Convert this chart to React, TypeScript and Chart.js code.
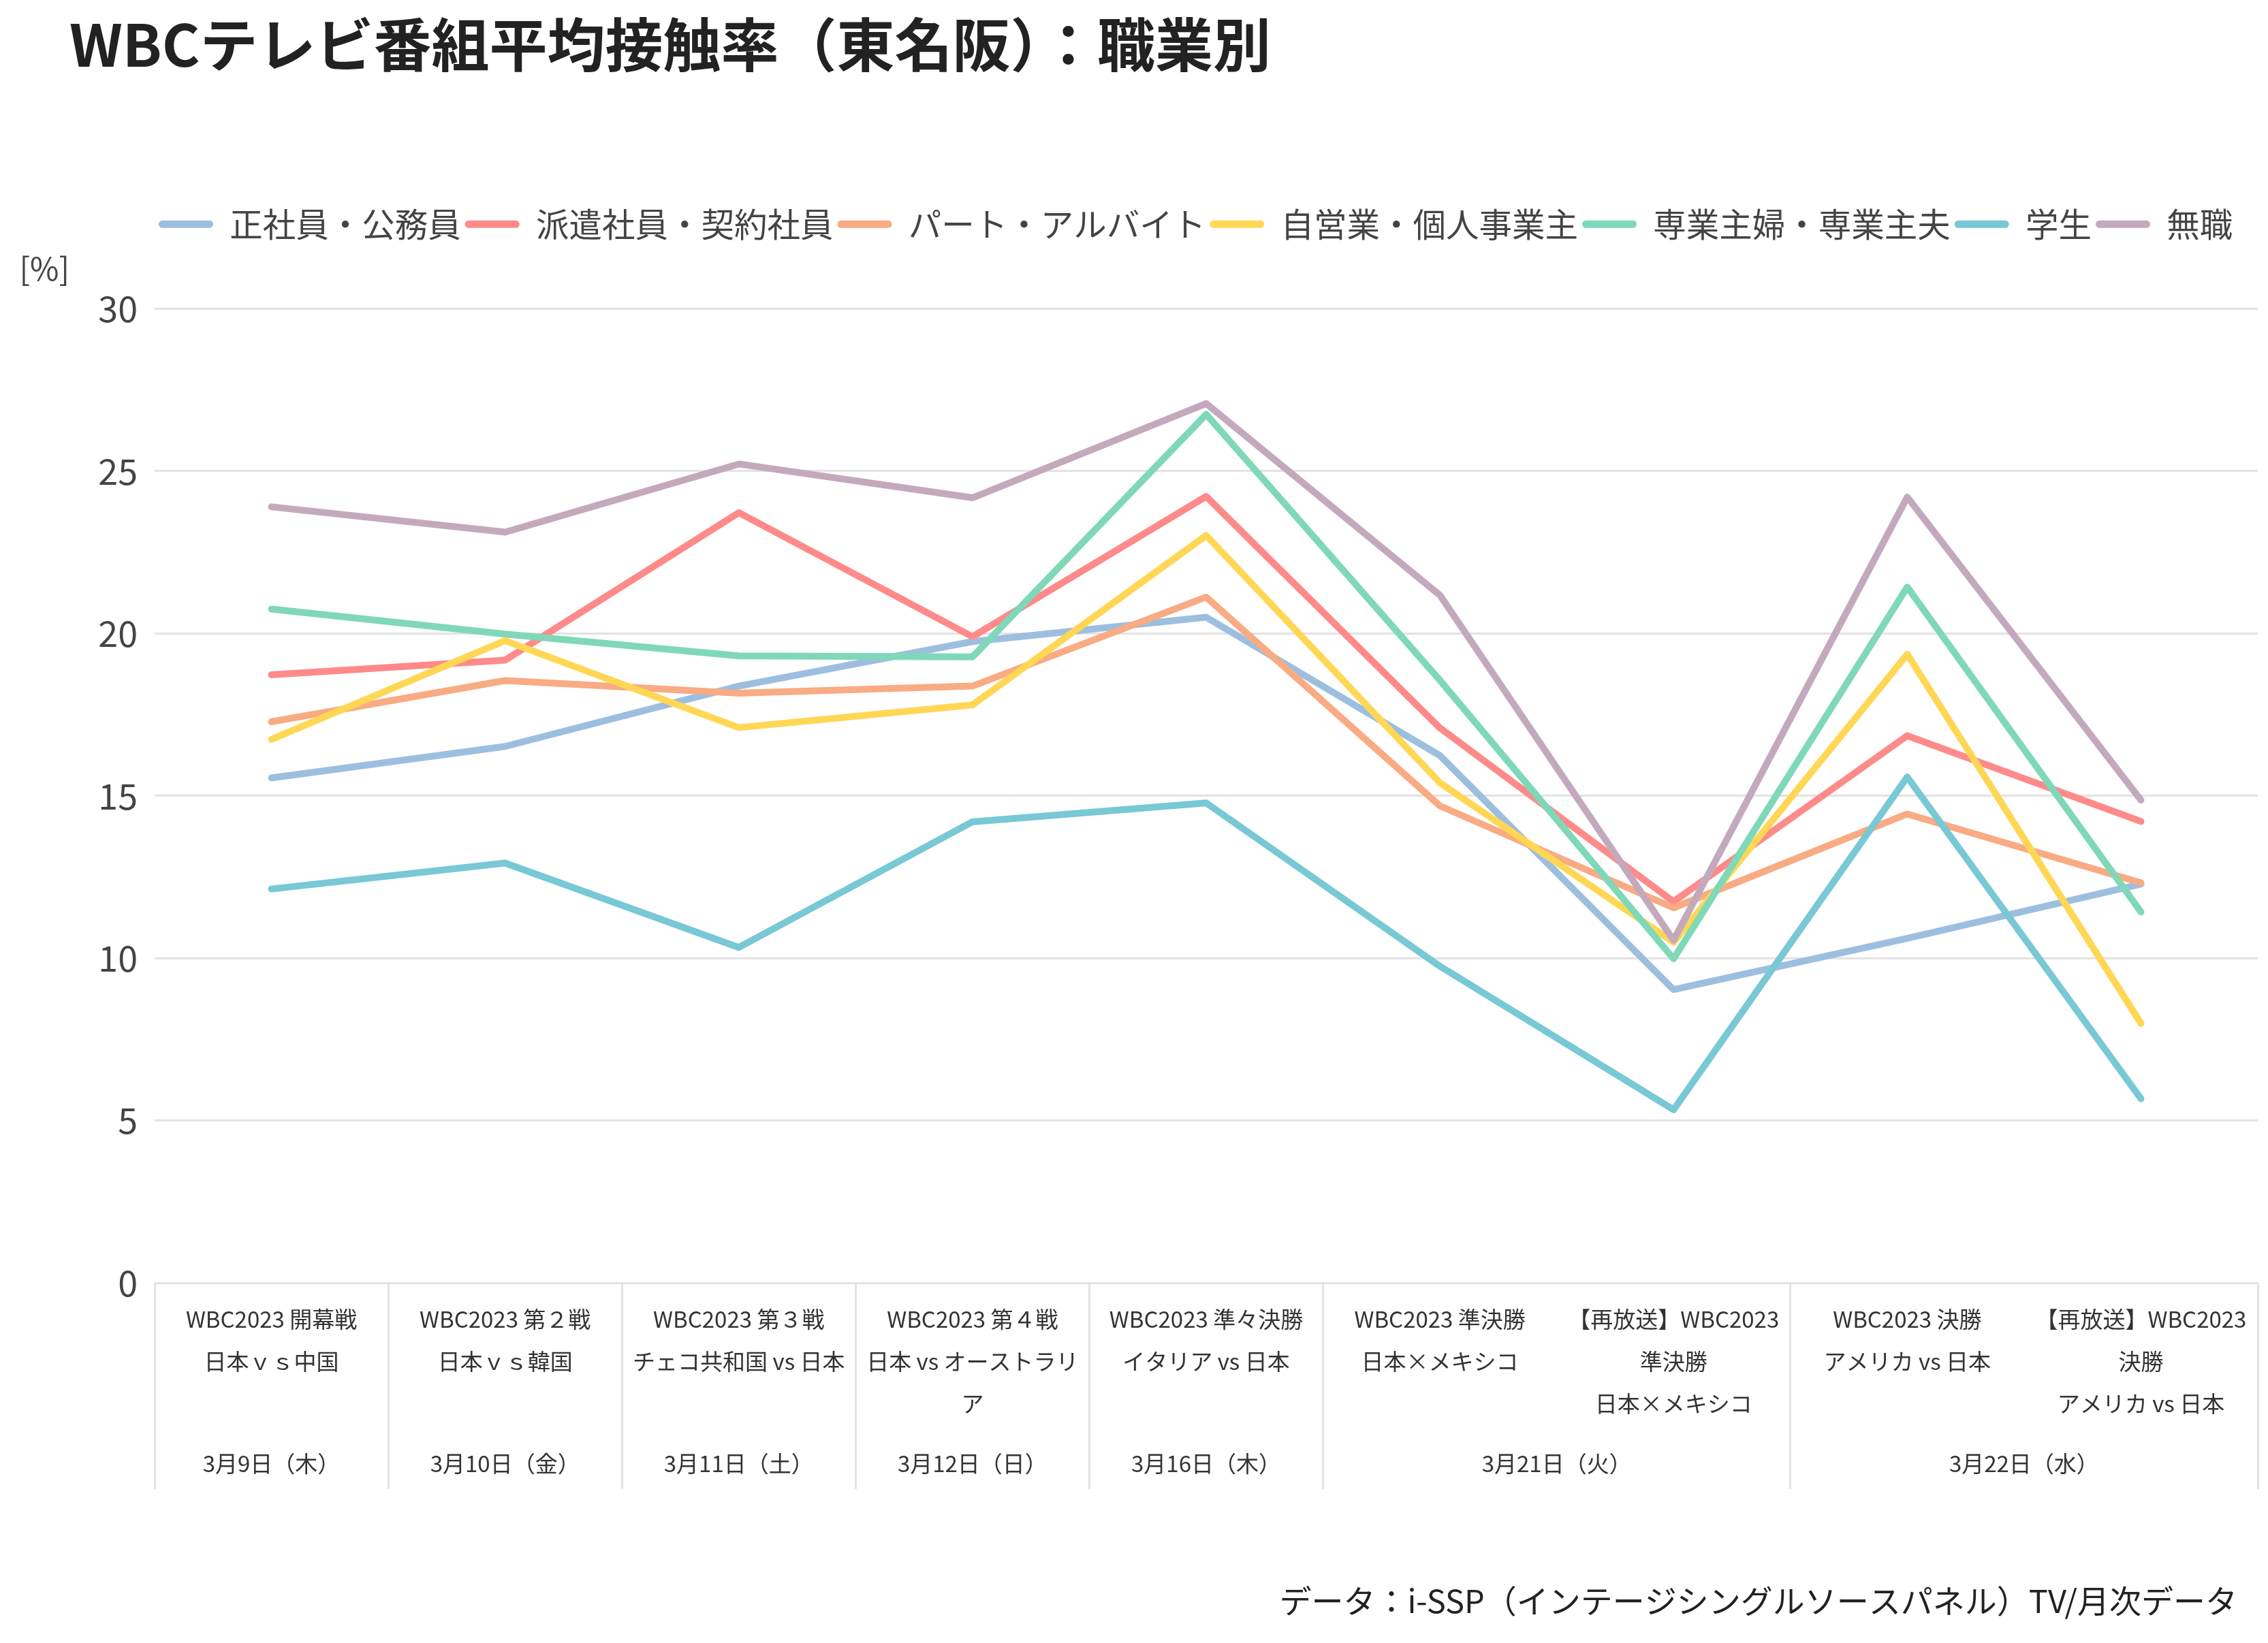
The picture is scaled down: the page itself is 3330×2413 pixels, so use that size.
import { useEffect, useRef } from 'react';
import { Chart, registerables, layouts } from 'chart.js';

Chart.register(...registerables);

// ---------- data ----------
const titleText = 'WBCテレビ番組平均接触率（東名阪）：職業別';
const sourceText = 'データ：i-SSP（インテージシングルソースパネル）TV/月次データ';
const yUnit = '[%]';

const programLabels: string[][] = [
  ['WBC2023 開幕戦', '日本ｖｓ中国'],
  ['WBC2023 第２戦', '日本ｖｓ韓国'],
  ['WBC2023 第３戦', 'チェコ共和国 vs 日本'],
  ['WBC2023 第４戦', '日本 vs オーストラリ', 'ア'],
  ['WBC2023 準々決勝', 'イタリア vs 日本'],
  ['WBC2023 準決勝', '日本×メキシコ'],
  ['【再放送】WBC2023', '準決勝', '日本×メキシコ'],
  ['WBC2023 決勝', 'アメリカ vs 日本'],
  ['【再放送】WBC2023', '決勝', 'アメリカ vs 日本'],
];

const dateLabels = ['3月9日（木）', '3月10日（金）', '3月11日（土）', '3月12日（日）', '3月16日（木）', '3月21日（火）', '3月22日（水）'];
const dateFirst = [0, 1, 2, 3, 4, 5, 7];
const dateLast = [0, 1, 2, 3, 4, 6, 8];

const seriesNames = ['正社員・公務員', '派遣社員・契約社員', 'パート・アルバイト', '自営業・個人事業主', '専業主婦・専業主夫', '学生', '無職'];
const seriesColors = ['#9dbfdf', '#ff8a8a', '#f9ab83', '#ffd755', '#7fd8b8', '#78c8d6', '#c4a9bd'];

const seiShain = [15.55, 16.52, 18.38, 19.75, 20.5, 16.24, 9.03, 10.61, 12.28];
const haken = [18.73, 19.18, 23.72, 19.9, 24.22, 17.09, 11.74, 16.85, 14.21];
const part = [17.28, 18.55, 18.16, 18.38, 21.12, 14.69, 11.55, 14.44, 12.32];
const jiei = [16.74, 19.78, 17.1, 17.8, 23.02, 15.4, 10.49, 19.36, 7.99];
const sengyo = [20.75, 19.98, 19.31, 19.28, 26.75, 18.56, 9.98, 21.43, 11.42];
const gakusei = [12.13, 12.93, 10.33, 14.2, 14.78, 9.75, 5.33, 15.58, 5.67];
const mushoku = [23.9, 23.12, 25.22, 24.18, 27.08, 21.18, 10.55, 24.2, 14.87];

const seriesValues = [seiShain, haken, part, jiei, sengyo, gakusei, mushoku];

const yMin = 0;
const yMax = 30;
const yStep = 5;

// ---------- styling ----------
const JP = '"Noto Sans CJK JP", "Noto Sans", sans-serif';
const W = 3330;
const H = 2413;
const GAP_BELOW_LEGEND = 90;
const X_AXIS_HEIGHT = 529;
const TICK_LEN = 303;

const hiddenGridIdx = new Set<number>();
dateFirst.forEach((f, i) => {
  for (let k = f + 1; k <= dateLast[i]; k++) hiddenGridIdx.add(k);
});

// empty layout box that leaves room between the legend and the plot
const spacerPlugin = {
  id: 'spacer',
  beforeInit(chart: any) {
    const box: any = {
      position: 'top',
      weight: 0,
      fullSize: false,
      options: {},
      left: 0,
      top: 0,
      right: 0,
      bottom: 0,
      width: 0,
      height: 0,
      update(maxWidth: number) {
        box.width = maxWidth;
        box.height = GAP_BELOW_LEGEND;
      },
      isHorizontal: () => true,
      draw: () => {},
    };
    layouts.addBox(chart, box);
  },
};

const extrasPlugin = {
  id: 'extras',
  afterDraw(chart: any) {
    const { ctx, chartArea, scales } = chart;
    const x = scales.x;
    ctx.save();
    ctx.fillStyle = '#333';
    ctx.font = `33px ${JP}`;
    ctx.textAlign = 'center';
    ctx.textBaseline = 'middle';
    dateLabels.forEach((lbl, i) => {
      const cx = (x.getPixelForValue(dateFirst[i]) + x.getPixelForValue(dateLast[i])) / 2;
      ctx.fillText(lbl, cx, chartArea.bottom + 265);
    });
    ctx.fillStyle = '#444';
    ctx.font = `46px ${JP}`;
    ctx.textAlign = 'right';
    ctx.fillText(yUnit, chartArea.left - 125, chartArea.top - 59);
    ctx.fillStyle = '#222';
    ctx.font = `47px ${JP}`;
    ctx.fillText(sourceText, chartArea.right - 30, chartArea.bottom + 467);
    ctx.restore();
  },
};

export default function App() {
  const ref = useRef<HTMLCanvasElement>(null);

  useEffect(() => {
    document.body.style.margin = '0';
    const canvas = ref.current!;
    const chart = new Chart(canvas, {
      type: 'line',
      data: {
        labels: programLabels,
        datasets: seriesNames.map((name, i) => ({
          label: name,
          data: seriesValues[i],
          borderColor: seriesColors[i],
          backgroundColor: seriesColors[i],
          borderWidth: 10,
          pointRadius: 0,
          pointHoverRadius: 0,
          tension: 0,
          fill: false,
          borderCapStyle: 'round',
          borderJoinStyle: 'round',
          order: -i,
        })),
      },
      options: {
        responsive: false,
        devicePixelRatio: 1,
        animation: false,
        events: [],
        layout: { padding: { left: 102, right: 15, top: 0, bottom: 0 } },
        plugins: {
          tooltip: { enabled: false },
          title: {
            display: true,
            text: titleText,
            align: 'start',
            color: '#222',
            font: { family: JP, size: 85, weight: 'bold', lineHeight: 1.2 },
            padding: { top: 15, bottom: 182 },
          },
          legend: {
            display: true,
            position: 'top',
            align: 'start',
            fullSize: false,
            labels: {
              color: '#444',
              font: { family: JP, size: 48.5 },
              boxWidth: 80,
              boxHeight: 11,
              padding: 6,
              useBorderRadius: true,
              borderRadius: 5.5,
              sort: (a: any, b: any) => a.datasetIndex - b.datasetIndex,
              generateLabels: (c: any) => {
                const items = (Chart.defaults.plugins.legend.labels as any).generateLabels(c);
                return items.map((it: any) => ({ ...it, lineWidth: 0, fillStyle: it.strokeStyle }));
              },
            },
          },
        },
        scales: {
          x: {
            type: 'category',
            offset: true,
            border: { display: false },
            grid: {
              offset: true,
              drawOnChartArea: false,
              drawTicks: true,
              tickLength: TICK_LEN,
              lineWidth: 3,
              color: (ctx: any) => (hiddenGridIdx.has(ctx.index) ? 'rgba(0,0,0,0)' : '#e3e3e3'),
            },
            ticks: {
              autoSkip: false,
              maxRotation: 0,
              minRotation: 0,
              padding: 22 - TICK_LEN,
              color: '#333',
              font: { family: JP, size: 33, lineHeight: 1.88 },
            },
            afterFit: (s: any) => {
              s.height = X_AXIS_HEIGHT;
            },
          },
          y: {
            min: yMin,
            max: yMax,
            border: { display: false },
            grid: { color: '#e3e3e3', lineWidth: 3, drawTicks: false },
            ticks: {
              stepSize: yStep,
              padding: 25,
              color: '#444',
              font: { family: JP, size: 52 },
            },
            afterFit: (s: any) => {
              s.width = 125;
            },
          },
        },
      },
      plugins: [spacerPlugin, extrasPlugin],
    } as any);
    return () => chart.destroy();
  }, []);

  return (
    <div style={{ width: W, height: H, background: '#fff' }}>
      <canvas ref={ref} width={W} height={H} style={{ display: 'block', width: W, height: H }} />
    </div>
  );
}
